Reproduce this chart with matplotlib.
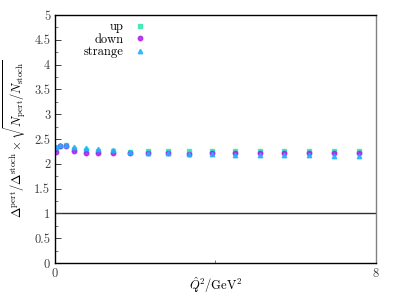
import numpy as np
import matplotlib
matplotlib.use("Agg")
import matplotlib.pyplot as plt
from matplotlib.ticker import MultipleLocator, FixedLocator

plt.rcParams['font.family'] = ['cmr10', 'DejaVu Serif']
plt.rcParams['mathtext.fontset'] = 'cm'
plt.rcParams['axes.formatter.use_mathtext'] = True

# Q^2 in GeV^2
q2 = [0.025, 0.125, 0.27, 0.48, 0.76, 1.08, 1.45, 1.86, 2.32, 2.82,
      3.35, 3.92, 4.49, 5.10, 5.72, 6.33, 6.96, 7.57]

up = [2.31, 2.36, 2.37, 2.30, 2.28, 2.26, 2.25, 2.24, 2.25, 2.25,
      2.25, 2.25, 2.25, 2.25, 2.25, 2.25, 2.25, 2.25]
down = [2.23, 2.35, 2.36, 2.26, 2.22, 2.22, 2.22, 2.21, 2.21, 2.21,
        2.20, 2.21, 2.21, 2.21, 2.21, 2.21, 2.21, 2.21]
strange = [2.34, 2.37, 2.37, 2.33, 2.32, 2.29, 2.27, 2.23, 2.22, 2.21,
           2.20, 2.19, 2.17, 2.17, 2.17, 2.17, 2.16, 2.16]

fig = plt.figure(figsize=(3.99, 2.99), dpi=100)
ax = fig.add_axes([0.138, 0.12, 0.804, 0.83])

ax.axhline(1.0, color='#303030', lw=1.0, zorder=1)

ax.plot(q2, up, ls='none', marker='s', ms=2.8, color='#30e8b0', alpha=0.85, label='up')
ax.plot(q2, down, ls='none', marker='o', ms=3.2, color='#b020f0', alpha=0.85, label='down')
ax.plot(q2, strange, ls='none', marker='^', ms=3.2, color='#20b0ff', alpha=0.85, label='strange')

ax.set_xlim(0, 8)
ax.set_ylim(0, 5)
ax.xaxis.set_major_locator(FixedLocator([0, 8]))
ax.xaxis.set_minor_locator(FixedLocator([4]))
ax.yaxis.set_major_locator(MultipleLocator(0.5))
ax.yaxis.set_minor_locator(MultipleLocator(0.25))
ax.yaxis.set_major_formatter(plt.FuncFormatter(lambda v, p: '%g' % v))
ax.xaxis.set_major_formatter(plt.FuncFormatter(lambda v, p: '%g' % v))
ax.tick_params(which='both', direction='in', top=False, right=False,
               labelsize=9, labelcolor='#404040', color='#404040')
ax.tick_params(which='major', length=4, width=0.7)
ax.tick_params(which='minor', length=2, width=0.5)
for s in ax.spines.values():
    s.set_linewidth(1.0)
ax.spines['right'].set_color('#808080')

ax.set_xlabel(r'$\hat{Q}^2/\mathrm{GeV}^2$', fontsize=9)
ax.xaxis.set_label_coords(0.5, -0.05)
ax.set_ylabel(r'$\Delta^{\rm pert}/\Delta^{\rm stoch}\times\sqrt{N_{\rm pert}/N_{\rm stoch}}$',
              fontsize=9)

ax.legend(loc='upper left', bbox_to_anchor=(0.065, 1.005), frameon=False,
          markerfirst=False, fontsize=9, handlelength=1.0, handletextpad=0.8,
          labelspacing=0.02, borderaxespad=0.2)
for t in ax.get_legend().get_texts():
    t.set_ha('right')

fig.savefig('out.png', dpi=100)
